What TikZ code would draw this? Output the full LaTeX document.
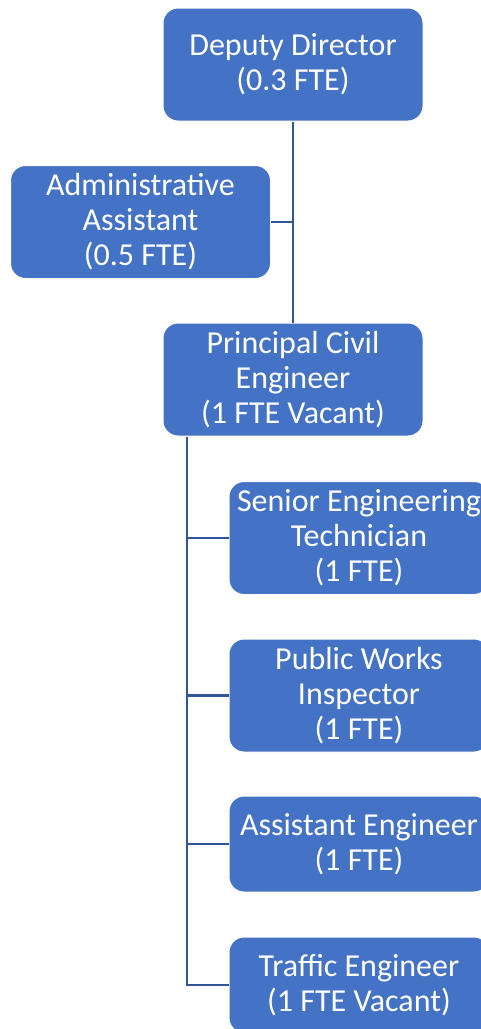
\documentclass[tikz,border=0pt]{standalone}
\usepackage{fontspec}
\setmainfont{Carlito}
\definecolor{boxblue}{HTML}{4472C4}
\definecolor{lineblue}{HTML}{2F5597}
\begin{document}
\begin{tikzpicture}[x=1pt,y=-1pt,
  orgbox/.style={rectangle, rounded corners=15pt, fill=boxblue, draw=white, line width=1pt,
    inner sep=0pt, align=center, text=white, minimum width=260pt,
    font=\fontsize{32}{35}\selectfont},
  conn/.style={draw=lineblue, line width=2.7pt}]
\useasboundingbox (0,0) rectangle (481,1029);
\clip (0,0) rectangle (481,1029);
\node[orgbox, minimum height=113pt] (dd) at (293,64.5) {Deputy Director\\(0.3 FTE)};
\node[orgbox, minimum height=113pt] (aa) at (140.5,222) {Administrative\\Assistant\\(0.5 FTE)};
\node[orgbox, minimum height=113pt] (pce) at (293,379.5) {Principal Civil\\Engineer\\(1 FTE Vacant)};
\node[orgbox, minimum height=113pt] (set) at (359,538) {Senior Engineering\\Technician\\(1 FTE)};
\node[orgbox, minimum height=113pt] (pwi) at (359,695.5) {Public Works\\Inspector\\(1 FTE)};
\node[orgbox, minimum height=96pt] (ae) at (359,844) {Assistant Engineer\\(1 FTE)};
\node[orgbox, minimum height=96pt] (te) at (359,985) {Traffic Engineer\\(1 FTE Vacant)};
\coordinate (trunk) at (187,436);
\draw[conn] (dd.south) -- (pce.north);
\draw[conn] (aa.east) -- (aa.east -| dd.south);
\draw[conn] (pce.south -| trunk) |- (te.west);
\draw[conn] (trunk |- set.west) -- (set.west);
\draw[conn] (trunk |- pwi.west) -- (pwi.west);
\draw[conn] (trunk |- ae.west) -- (ae.west);
\end{tikzpicture}
\end{document}
